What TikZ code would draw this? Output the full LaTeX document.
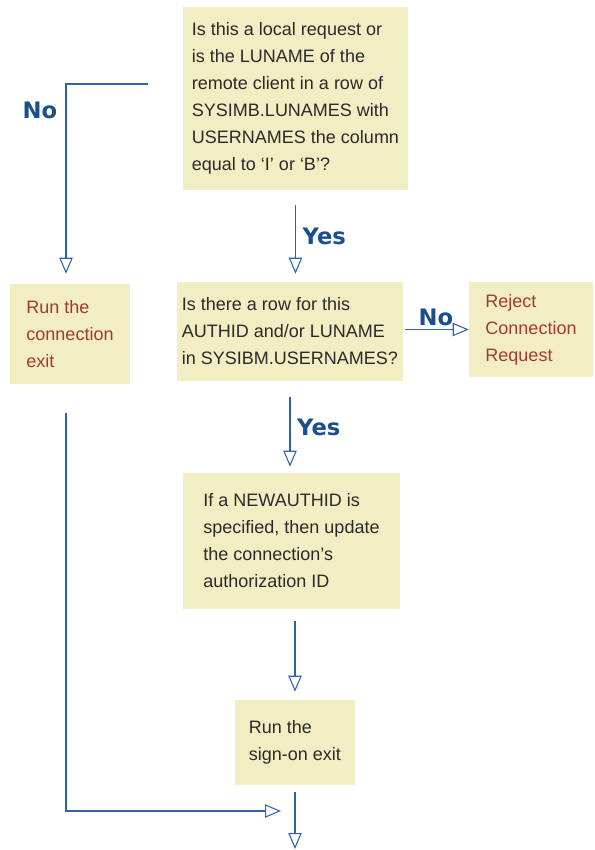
\documentclass[tikz,border=0pt]{standalone}
\usepackage{fontspec}
\setmainfont{Liberation Sans}
\newfontfamily\labelfont{DejaVu Sans}
\usetikzlibrary{arrows.meta}

\definecolor{boxfill}{HTML}{F3EDC3}
\definecolor{lineblue}{HTML}{2E63A6}
\definecolor{labelblue}{HTML}{1A4E8C}
\definecolor{textred}{HTML}{A23B2E}
\definecolor{textgrey}{HTML}{2A2A2A}

\tikzset{
  box/.style={fill=boxfill, align=left, inner sep=0pt, text=textgrey,
    font=\fontsize{13.5}{20.25}\selectfont},
  flow/.style={draw=lineblue, line width=0.8pt},
  lbl/.style={font=\labelfont\bfseries\fontsize{17}{20}\selectfont, text=labelblue, inner sep=5pt}
}

\begin{document}
\begin{tikzpicture}[x=0.75pt, y=-0.75pt, >={Triangle[open, length=12pt, width=10pt]}]
    \useasboundingbox (0,0) rectangle (594,850);

    \node [box, minimum width=168.75pt, minimum height=137.25pt] (q1) at (295.5, 98.5)
        {Is this a local request or\\ is the LUNAME of the\\ remote client in a row of\\ SYSIMB.LUNAMES with\\ USERNAMES the column\\ equal to ‘I’ or ‘B’?};
    \node [box, text=textred, minimum width=90pt, minimum height=75pt] (exit) at (70, 334)
        {Run the\\ connection\\ exit};
    \node [box, minimum width=169.5pt, minimum height=74.25pt] (q2) at (290, 331.5)
        {Is there a row for this\\ AUTHID and/or LUNAME\\ in SYSIBM.USERNAMES?};
    \node [box, text=textred, minimum width=93pt, minimum height=71.25pt] (reject) at (531, 329.5)
        {Reject\\ Connection\\ Request};
    \node [box, minimum width=162.75pt, minimum height=102pt] (upd) at (291.5, 541)
        {If a NEWAUTHID is\\ specified, then update\\ the connection’s\\ authorization ID};
    \node [box, minimum width=90pt, minimum height=63.75pt] (sign) at (295, 742.5)
        {Run the\\ sign-on exit};
    \coordinate (merge) at (281, 811);
    \coordinate (nextstep) at (295, 849);

    \node [lbl] (nolbl) at (40, 110) {No};

 \path[->, every edge/.append style={flow}]
      (q1.south) edge[shorten <=11pt, shorten >=6pt] node[lbl, right] {Yes} (q1.south |- q2.north)
      (q2.east |- reject.west) edge[shorten <=1.5pt] node[lbl, above, inner sep=2pt] {No} (reject.west)
      (q2.south) edge[shorten <=12pt, shorten >=4.5pt] node[lbl, right] {Yes} (q2.south |- upd.north)
      (sign.north |- upd.south) edge[shorten <=9pt, shorten >=6pt] (sign.north)
      (sign.south) edge[shorten <=5pt] (nextstep);
    \draw[flow, ->, shorten <=26pt, shorten >=7.5pt] (q1.west |- 0,84) -| ([xshift=-3pt]exit.north);
    \draw[flow, ->, shorten <=21.75pt] ([xshift=-3pt]exit.south) |- (merge);
\end{tikzpicture}
\end{document}
